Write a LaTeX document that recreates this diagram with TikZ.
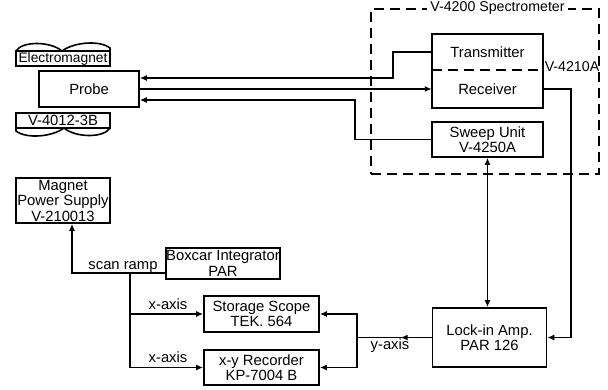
\documentclass[tikz,border=0pt]{standalone}
\usepackage{fontspec}
\setmainfont{Liberation Sans}
\usetikzlibrary{arrows.meta,positioning}

\begin{document}
\begin{tikzpicture}[x=1pt,y=-1pt,every node/.style={font=\fontsize{14.8}{15.5}\selectfont,align=center,inner sep=0pt},box/.style={draw,line width=1.6pt},wire/.style={line width=1.6pt},arr/.style={-{Latex[length=7pt,width=6pt]},line width=1.6pt},darr/.style={{Latex[length=7pt,width=6pt]}-{Latex[length=7pt,width=6pt]},line width=1.6pt},dsh/.style={line width=1.6pt,dash pattern=on 10pt off 6pt}]
\useasboundingbox (0,0) rectangle (608,389);
\node[box,minimum width=94pt,minimum height=15pt,font=\fontsize{13.8}{15}\selectfont] (emag) at (63,58.5) {Electromagnet};
\draw[wire] (16,51) .. controls (22,41) and (50,41) .. (62,51) .. controls (74,42) and (100,40) .. (110,48) -- (110,51);
\node[box,minimum width=100pt,minimum height=36pt] (probe) at (89,89) {Probe};
\node[box,minimum width=94pt,minimum height=15pt] (v4012) at (63,120.5) {V-4012-3B};
\draw[wire] (110,128) .. controls (104,138) and (76,138) .. (64,128) .. controls (52,137) and (26,139) .. (16,131) -- (16,128);
\node[draw,dsh,minimum width=228pt,minimum height=165pt] (spec) at (485,91.5) {};
\node[fill=white,inner xsep=3pt,inner ysep=2pt,font=\fontsize{14.2}{15}\selectfont] (spect) at ([xshift=12.5pt]spec.north) {V-4200 Spectrometer};
\node[minimum width=111pt,minimum height=36pt] (tx) at (487.5,52) {Transmitter};
\node[minimum width=111pt,minimum height=38pt] (rx) at (487.5,89) {Receiver};
\draw[wire] (tx.north west) rectangle (rx.south east);
\draw[dsh] (tx.south west) -- (tx.south east);
\node[font=\fontsize{14.2}{15}\selectfont] (v4210) at (572,67) {V-4210A};
\node[box,minimum width=111pt,minimum height=35pt] (sweep) at (487.5,139.5) {Sweep Unit\\V-4250A};
\node[box,minimum width=94pt,minimum height=45pt] (magnet) at (63,200.5) {Magnet\\Power Supply\\V-210013};
\node[box,minimum width=112pt,minimum height=31pt] (boxcar) at (223,263.5) {Boxcar Integrator\\PAR};
\node[box,minimum width=115pt,minimum height=36pt] (scope) at (261.5,314) {Storage Scope\\TEK. 564};
\node[box,minimum width=115pt,minimum height=35pt] (rec) at (261.5,367.5) {x-y Recorder\\KP-7004 B};
\node[box,minimum width=114pt,minimum height=59pt] (lockin) at (489.5,337.5) {Lock-in Amp.\\PAR 126};
\coordinate (ya) at (357,337.5);
\coordinate (br) at (130,273);
\draw[arr] (tx.west) -- (393,52) |- ([yshift=11pt]probe.east);
\draw[arr] (probe.east) -- (rx.west);
\draw[arr] (sweep.west) -- (355,139.5) |- ([yshift=-11pt]probe.east);
\draw[darr] (sweep.south) -- (sweep.south |- lockin.north);
\draw[arr] (rx.east) -- (571,89) |- (lockin.east);
\draw[arr] (lockin.west) -- ++(-31,0);
\draw[wire] (lockin.west) -- (ya);
\draw[arr] (ya) |- (scope.east); \draw[arr] (ya) |- (rec.east);
\draw[arr] ([yshift=-9.5pt]boxcar.west) -| ([xshift=9pt]magnet.south);
\draw[arr] (br) |- (scope.west); \draw[arr] (br) |- (rec.west);
\node[anchor=base] (scan) at (123,269) {scan ramp};
\node[anchor=base] (xa1) at (168,309) {x-axis};
\node[anchor=base] (xa2) at (168,362.5) {x-axis};
\node[anchor=base] (yax) at (390,349) {y-axis};
\end{tikzpicture}
\end{document}
